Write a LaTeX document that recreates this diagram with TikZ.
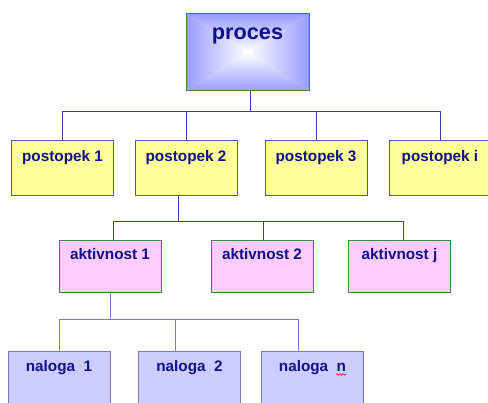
\documentclass[tikz,border=0pt]{standalone}
\usepackage{fontspec}
\setmainfont{Liberation Sans}
\usetikzlibrary{decorations.pathmorphing}
\definecolor{txtblue}{HTML}{10108A}
\definecolor{procfill}{HTML}{9A9AFF}
\definecolor{greenedge}{HTML}{3A8A3A}
\definecolor{postfill}{HTML}{FFFF99}
\definecolor{postedge}{HTML}{5555A8}
\definecolor{aktfill}{HTML}{FFCCFF}
\definecolor{nalfill}{HTML}{CCCCFF}
\definecolor{naledge}{HTML}{7777CC}
\definecolor{linkdark}{HTML}{3A3AA8}
\definecolor{linklight}{HTML}{7777CC}
\tikzset{
  box/.style={rectangle, inner sep=0pt, line width=1pt},
  postbox/.style={box, draw=postedge, fill=postfill, minimum width=102pt, minimum height=55pt},
  aktbox/.style={box, draw=greenedge, fill=aktfill, minimum width=102pt, minimum height=52pt},
  nalbox/.style={box, draw=naledge, fill=nalfill, minimum width=102pt, minimum height=52pt},
  lbl/.style={anchor=base, inner sep=0pt, text=txtblue, font=\fontsize{15.3}{18}\selectfont\bfseries},
  link/.style={line width=1pt, draw=linkdark},
  linkl/.style={line width=1pt, draw=linklight},
}
\begin{document}
\begin{tikzpicture}[x=1pt, y=-1pt]
\useasboundingbox (0,0) rectangle (488,403);
\clip (0,0) rectangle (488,403);
\fill[white] (0,0) rectangle (488,403);

% top box with a pyramid gradient: white centre, blue edges
\coordinate (pc) at (247.5,52);
\shade[top color=procfill, bottom color=white] (186,14) -- (309,14) -- (pc) -- cycle;
\shade[top color=white, bottom color=procfill] (186,91) -- (309,91) -- (pc) -- cycle;
\shade[left color=procfill, right color=white] (186,14) -- (186,91) -- (pc) -- cycle;
\shade[left color=white, right color=procfill] (309,14) -- (309,91) -- (pc) -- cycle;
\node[box, draw=greenedge, minimum width=123pt, minimum height=77pt] (proces) at (247.5,52.5) {};
\node[lbl, font=\fontsize{21.7}{24}\selectfont\bfseries] (tproces) at (247.5,40) {proces};

% level 1
\node[postbox] (p1) at (62.5,168.5) {};
\node[postbox] (p2) at (186,168.5) {};
\node[postbox] (p3) at (316,168.5) {};
\node[postbox] (p4) at (440,168.5) {};
\node[lbl] (tp1) at (62.5,162) {postopek 1};
\node[lbl] (tp2) at (186,162) {postopek 2};
\node[lbl] (tp3) at (316,162) {postopek 3};
\node[lbl] (tp4) at (440,162) {postopek i};

% level 2
\node[aktbox] (a1) at (110,267) {};
\node[aktbox] (a2) at (262,267) {};
\node[aktbox] (a3) at (399.5,267) {};
\node[lbl] (ta1) at (110,260) {aktivnost 1};
\node[lbl] (ta2) at (262,260) {aktivnost 2};
\node[lbl] (ta3) at (399.5,260) {aktivnost j};

% level 3
\node[nalbox] (n1) at (59,378) {};
\node[nalbox] (n2) at (189.5,378) {};
\node[nalbox] (n3) at (312.5,378) {};
\node[lbl] (tn1) at (59,372) {naloga~~1};
\node[lbl] (tn2) at (189.5,372) {naloga~~2};
\node[lbl] (tn3) at (312.5,372) {naloga~~n};
\draw[red, line width=0.6pt, decorate, decoration={snake, amplitude=0.8pt, segment length=3pt}]
  ([xshift=-10pt, yshift=-2.5pt]tn3.base east) -- ([yshift=-2.5pt]tn3.base east);

% connectors
\coordinate (j0) at (250.5,112);
\draw[link] (proces.south -| j0) -- (j0);
\draw[link] (j0) -| (p1.north);
\draw[link] (j0) -| (p2.north);
\draw[link] (j0) -| (p3.north);
\draw[link] (j0) -| (p4.north);

\coordinate (j1) at (178,222);
\draw[link] (p2.south -| j1) -- (j1);
\draw[link] (j1) -| ([xshift=3pt]a1.north);
\draw[link] (j1) -| ([xshift=1pt]a2.north);
\draw[link] (j1) -| ([xshift=3.5pt]a3.north);

\coordinate (j2) at (110,320);
\draw[linkl] (a1.south) -- (j2);
\draw[linkl] (j2) -| (n1.north);
\draw[linkl] (j2) -| ([xshift=-14.5pt]n2.north);
\draw[linkl] (j2) -| ([xshift=-14.5pt]n3.north);
\end{tikzpicture}
\end{document}
